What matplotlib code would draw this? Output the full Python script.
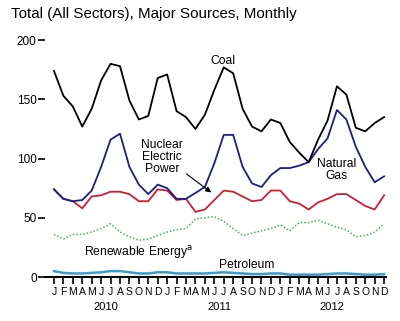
import matplotlib
matplotlib.use('Agg')
import matplotlib.pyplot as plt
import numpy as np

plt.rcParams['font.family'] = ['Liberation Sans', 'DejaVu Sans']

months = ['J', 'F', 'M', 'A', 'M', 'J', 'J', 'A', 'S', 'O', 'N', 'D'] * 3
years = ['2010', '2011', '2012']

coal = [174, 153, 144, 127, 142, 166, 180, 178, 149, 133, 136, 168,
        171, 140, 135, 125, 137, 158, 177, 172, 142, 127, 123, 133,
        130, 114, 105, 97, 116, 132, 161, 154, 126, 123, 130, 135]
gas = [74, 66, 64, 65, 73, 93, 116, 121, 93, 78, 70, 78,
       75, 66, 66, 71, 76, 96, 120, 120, 93, 79, 76, 86,
       92, 92, 94, 97, 108, 117, 141, 133, 110, 93, 80, 85]
nuclear = [74, 66, 64, 58, 68, 69, 72, 72, 70, 64, 64, 74,
           73, 65, 66, 55, 57, 65, 73, 72, 68, 64, 65, 73,
           73, 64, 62, 57, 63, 66, 70, 70, 65, 60, 57, 69]
renew = [36, 32, 36, 36, 38, 41, 45, 38, 34, 31, 32, 35,
         38, 40, 41, 49, 50, 51, 47, 41, 35, 37, 39, 41,
         44, 39, 46, 46, 48, 45, 42, 40, 34, 35, 38, 45]
petrol = [5, 3.5, 3, 3, 3.5, 4, 5, 5, 4, 3, 3, 4,
          4, 3, 3, 3, 3, 3.5, 4, 3.5, 3, 2.5, 2.5, 3,
          3, 2, 2, 2, 2, 2.5, 3, 3, 2.5, 2, 2, 2.5]

x = np.arange(len(months))

fig = plt.figure(figsize=(4.0, 3.21), dpi=100)
ax = fig.add_axes([0.1125, 0.137, 0.8525, 0.738])

ax.plot(x, petrol, color='#3a9ccc', lw=1.8)
ax.plot(x, renew, color='#4fae5a', lw=1.1, ls=(0, (1, 1.3)))
ax.plot(x, nuclear, color='#cc1f36', lw=1.3)
ax.plot(x, gas, color='#1b1f80', lw=1.3)
ax.plot(x, coal, color='black', lw=1.3)

ax.set_xlim(-0.95, 35.2)
ax.set_ylim(0, 200)

for s in ['top', 'right', 'left']:
    ax.spines[s].set_visible(False)
ax.spines['bottom'].set_linewidth(1.5)

ax.set_yticks([0, 50, 100, 150, 200])
ax.tick_params(axis='y', direction='out', length=5, width=1.2, labelsize=8.5, pad=1)
ax.set_xticks(x)
ax.set_xticklabels(months)
ax.tick_params(axis='x', direction='out', length=5, width=1.2, labelsize=7.5, pad=2)

for i, yr in enumerate(years):
    ax.text(12 * i + 5.5, -0.105, yr, transform=ax.get_xaxis_transform(),
            ha='center', va='top', fontsize=8)

ax.text(17.9, 182, 'Coal', ha='center', va='center', fontsize=8.7)
ax.text(11.45, 101, 'Nuclear\nElectric\nPower', ha='center', va='center',
        fontsize=8.7, linespacing=1.0)
ax.annotate('', xy=(16.9, 70), xytext=(13.8, 88.5),
            arrowprops=dict(arrowstyle='-|>', color='black', lw=0.8, mutation_scale=8))
ax.text(30, 90, 'Natural\nGas', ha='center', va='center', fontsize=8.7, linespacing=1.0)
ax.text(3.2, 21, 'Renewable Energy$^{\\mathrm{a}}$', ha='left', va='center', fontsize=8.7)
ax.text(20.4, 10, 'Petroleum', ha='center', va='center', fontsize=8.7)

fig.text(0.027, 0.955, 'Total (All Sectors), Major Sources, Monthly',
         ha='left', va='center', fontsize=10.9)

fig.savefig('out.png', dpi=100)
